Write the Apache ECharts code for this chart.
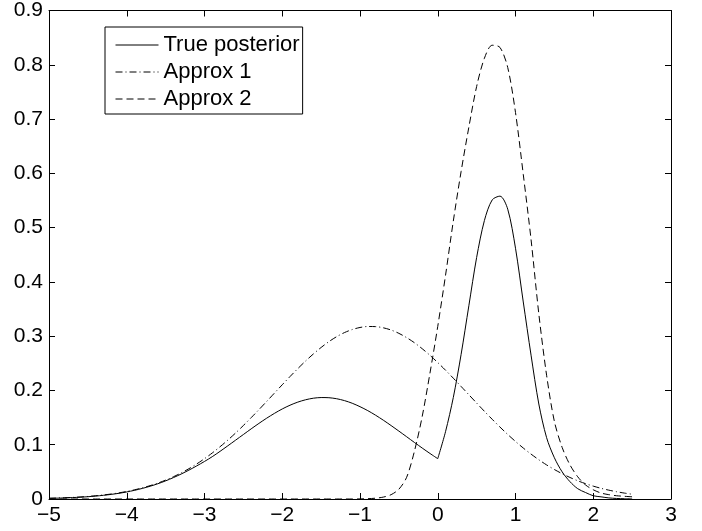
<!DOCTYPE html>
<html>
<head>
<meta charset="utf-8">
<script src="https://cdn.jsdelivr.net/npm/echarts@6/dist/echarts.min.js"></script>
<style>
  html, body { margin: 0; padding: 0; background: #fff; }
  #box { width: 702px; height: 531px; }
</style>
</head>
<body>
<div id="box"></div>
<script>
// x grid (step 0.1, -5 .. 2.5)
var xList = [-5.0,-4.9,-4.8,-4.7,-4.6,-4.5,-4.4,-4.3,-4.2,-4.1,
  -4.0,-3.9,-3.8,-3.7,-3.6,-3.5,-3.4,-3.3,-3.2,-3.1,
  -3.0,-2.9,-2.8,-2.7,-2.6,-2.5,-2.4,-2.3,-2.2,-2.1,
  -2.0,-1.9,-1.8,-1.7,-1.6,-1.5,-1.4,-1.3,-1.2,-1.1,
  -1.0,-0.9,-0.8,-0.7,-0.6,-0.5,-0.4,-0.3,-0.2,-0.1,
  0.0,0.1,0.2,0.3,0.4,0.5,0.6,0.7,0.8,0.9,
  1.0,1.1,1.2,1.3,1.4,1.5,1.6,1.7,1.8,1.9,
  2.0,2.1,2.2,2.3,2.4,2.5];

// True posterior (solid), kink at x = 0 (index 50)
var truePost = [0.0012,0.0015,0.0020,0.0026,0.0033,0.0042,0.0054,0.0068,0.0085,0.0105,
  0.0130,0.0160,0.0195,0.0235,0.0281,0.0334,0.0394,0.0460,0.0532,0.0610,
  0.0692,0.0780,0.0878,0.0980,0.1084,0.1188,0.1292,0.1393,0.1489,0.1578,
  0.1659,0.1728,0.1785,0.1828,0.1857,0.1869,0.1866,0.1847,0.1813,0.1764,
  0.1701,0.1628,0.1544,0.1452,0.1353,0.1251,0.1147,0.1042,0.0939,0.0839,
  0.0743,0.124,0.187,0.266,0.356,0.445,0.513,0.551,0.558,0.534,
  0.462,0.363,0.265,0.175,0.113,0.076,0.050,0.032,0.019,0.012,
  0.006,0.004,0.002,0.001,0.0005,0.0002];
var kinkIndex = 50;

// Approx 1 (dash-dot)
var approx1 = [0.0014,0.0018,0.0023,0.0029,0.0037,0.0047,0.0060,0.0074,0.0092,0.0113,
  0.0139,0.0169,0.0205,0.0246,0.0293,0.0348,0.0410,0.0480,0.0559,0.0646,
  0.0743,0.0848,0.0963,0.1085,0.1216,0.1354,0.1498,0.1646,0.1798,0.1952,
  0.2105,0.2256,0.2402,0.2542,0.2672,0.2792,0.2899,0.2991,0.3066,0.3122,
  0.3160,0.3178,0.3176,0.3154,0.3113,0.3052,0.2973,0.2879,0.2769,0.2647,
  0.2514,0.2373,0.2226,0.2074,0.1921,0.1768,0.1616,0.1469,0.1326,0.1189,
  0.1060,0.0939,0.0827,0.0723,0.0628,0.0543,0.0466,0.0397,0.0336,0.0283,
  0.0237,0.0197,0.0163,0.0134,0.0109,0.0088];

// Approx 2 (dashed)
var approx2 = [0,0,0,0,0,0,0,0,0,0,
  0,0,0,0,0,0,0,0,0,0,
  0,0,0,0,0,0,0,0,0,0,
  0,0,0,0,0,0,0,0,0,0,
  0.0002,0.0006,0.0015,0.0035,0.008,0.018,0.040,0.088,0.152,0.232,
  0.318,0.412,0.512,0.603,0.685,0.760,0.812,0.836,0.832,0.795,
  0.712,0.598,0.478,0.341,0.228,0.143,0.095,0.063,0.041,0.026,
  0.017,0.011,0.008,0.006,0.005,0.004];

var seriesNames = ['True posterior', 'Approx 1', 'Approx 2'];

function pairs(vals, from, to) {
  var out = [];
  for (var i = from; i < to; i++) out.push([xList[i], vals[i]]);
  return out;
}

var font = 'Liberation Sans, Arial, Helvetica, sans-serif';
var axisLine = { show: true, onZero: false, lineStyle: { color: '#000', width: 1 } };
var axisTick = { show: true, inside: true, length: 6, lineStyle: { color: '#000', width: 1 } };

var dom = document.getElementById('box');
var myChart = echarts.init(dom, null, { renderer: 'canvas' });

var solidStyle = { color: '#000', width: 1, type: 'solid' };

var option = {
  animation: false,
  backgroundColor: '#fff',
  grid: { left: 49, right: 31, top: 8, bottom: 32, containLabel: false },
  legend: {
    orient: 'vertical',
    left: 105,
    top: 27,
    padding: [7, 3, 4, 10],
    itemGap: 5,
    itemWidth: 43,
    itemHeight: 20,
    backgroundColor: '#fff',
    borderColor: '#000',
    borderWidth: 1,
    borderRadius: 0,
    itemStyle: { opacity: 0 },
    lineStyle: { width: 1 },
    data: seriesNames,
    textStyle: { color: '#000', fontSize: 22, fontFamily: font, lineHeight: 20, padding: [0, 0, 0, 0] }
  },
  xAxis: [
    {
      type: 'value', min: -5, max: 3, interval: 1, position: 'bottom',
      axisLine: axisLine, axisTick: axisTick, splitLine: { show: false },
      axisLabel: {
        color: '#000', fontSize: 21, fontFamily: font, margin: 6,
        formatter: function (v) { return String(v).replace('-', '\u2212'); }
      }
    },
    {
      type: 'value', min: -5, max: 3, interval: 1, position: 'top',
      axisLine: axisLine, axisTick: axisTick, splitLine: { show: false },
      axisLabel: { show: false }
    }
  ],
  yAxis: [
    {
      type: 'value', min: 0, max: 0.9, interval: 0.1, position: 'left',
      axisLine: axisLine, axisTick: axisTick, splitLine: { show: false },
      axisLabel: {
        color: '#000', fontSize: 21, fontFamily: font, margin: 6,
        formatter: function (v) { return v === 0 ? '0' : v.toFixed(1); }
      }
    },
    {
      type: 'value', min: 0, max: 0.9, interval: 0.1, position: 'right',
      axisLine: axisLine, axisTick: axisTick, splitLine: { show: false },
      axisLabel: { show: false }
    }
  ],
  series: [
    {
      name: seriesNames[0], type: 'line', data: pairs(truePost, 0, kinkIndex + 1),
      symbol: 'none', showSymbol: false, smooth: 0.3,
      lineStyle: solidStyle, itemStyle: { color: '#000' }
    },
    {
      name: seriesNames[0], type: 'line', data: pairs(truePost, kinkIndex, xList.length),
      symbol: 'none', showSymbol: false, smooth: 0.3,
      lineStyle: solidStyle, itemStyle: { color: '#000' }
    },
    {
      name: seriesNames[1], type: 'line', data: pairs(approx1, 0, xList.length),
      symbol: 'none', showSymbol: false, smooth: 0.3,
      lineStyle: { color: '#000', width: 1, type: [7, 3, 1, 3] },
      itemStyle: { color: '#000' }
    },
    {
      name: seriesNames[2], type: 'line', data: pairs(approx2, 0, xList.length),
      symbol: 'none', showSymbol: false, smooth: 0.3,
      lineStyle: { color: '#000', width: 1, type: [7, 4] },
      itemStyle: { color: '#000' }
    }
  ]
};

myChart.setOption(option);
</script>
</body>
</html>
